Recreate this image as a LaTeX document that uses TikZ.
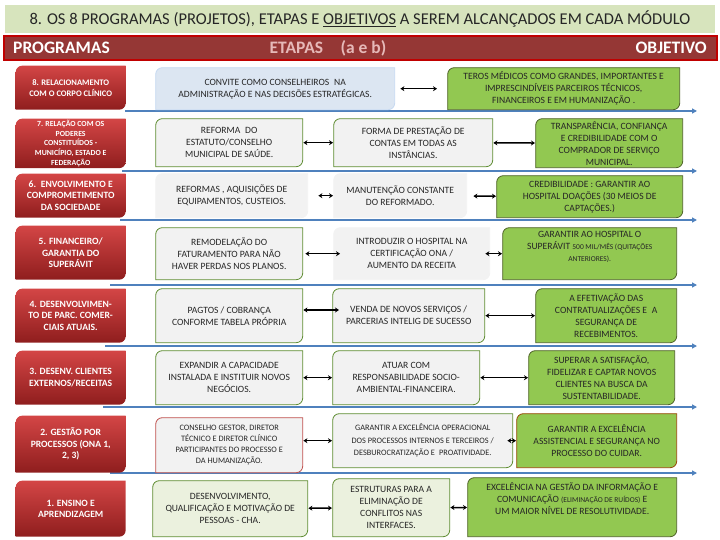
\documentclass[tikz,border=0pt]{standalone}
\usepackage{fontspec}
\setmainfont{Carlito}
\usetikzlibrary{arrows.meta,backgrounds}
\definecolor{titlegreen}{HTML}{D7E4BD}
\definecolor{hdrred}{HTML}{953735}
\definecolor{hdrline}{HTML}{C00000}
\definecolor{etapink}{HTML}{E6B9B8}
\definecolor{progtop}{HTML}{D44646}
\definecolor{progbot}{HTML}{8E1D1D}
\definecolor{objgreen}{HTML}{92C851}
\definecolor{objline}{HTML}{4F6228}
\definecolor{grayfill}{HTML}{F2F2F2}
\definecolor{boxgreen}{HTML}{5E8C31}
\definecolor{bluefill}{HTML}{DCE6F2}
\definecolor{blueline}{HTML}{C6D9F1}
\definecolor{lgreen}{HTML}{EBF1DE}
\definecolor{redline}{HTML}{C0504D}
\definecolor{brownline}{HTML}{984807}
\definecolor{sepblue}{HTML}{4F81BD}
\definecolor{txtgray}{HTML}{262626}
\newcommand{\diagpath}{([shift={(0.5pt,-7pt)}]path picture bounding box.north west) arc[start angle=180,end angle=90,radius=6.5pt] -- ([shift={(-0.5pt,-0.5pt)}]path picture bounding box.north east) -- ([shift={(-0.5pt,7pt)}]path picture bounding box.south east) arc[start angle=0,end angle=-90,radius=6.5pt] -- ([shift={(0.5pt,0.5pt)}]path picture bounding box.south west) -- cycle}
\tikzset{
  titlebar/.style={fill=titlegreen, minimum width=710pt, minimum height=28pt, inner sep=0pt, font=\fontsize{16.5}{19}\selectfont, text=txtgray},
  hdrbar/.style={fill=hdrred, draw=hdrline, line width=2pt, minimum width=713pt, minimum height=24pt, inner sep=0pt},
  hdrtxt/.style={font=\fontsize{17.5}{20}\selectfont\bfseries, text=white, inner sep=0pt},
  shp/.style 2 args={path picture={\path[fill=#1, draw=#2, line width=0.8pt] \diagpath;}},
  box/.style={anchor=north west, align=center, inner sep=2pt, font=\fontsize{9.6}{12}\selectfont, text=txtgray},
  prog/.style={box, font=\fontsize{9.6}{11.5}\selectfont\bfseries, text=white, path picture={\shade[top color=progtop, bottom color=progbot] \diagpath;}},
  etap/.style={box, shp={grayfill}{boxgreen}},
  etapn/.style={box, shp={grayfill}{grayfill}},
  obj/.style={box, shp={objgreen}{objline}},
  dbl/.style={{Stealth[length=4pt,width=5pt]}-{Stealth[length=4pt,width=5pt]}, line width=1.5pt},
  sep/.style={-{Triangle[length=5pt,width=5pt]}, line width=1.6pt, sepblue},
}
\begin{document}
\begin{tikzpicture}[x=1pt,y=1pt]
\useasboundingbox (0,0) rectangle (720,-540);
\node[titlebar] (title) at (360,-19) {8. OS 8 PROGRAMAS (PROJETOS), ETAPAS E \underline{OBJETIVOS} A SEREM ALCANÇADOS EM CADA MÓDULO};
\node[hdrbar] (hdr) at (360,-48) {};
\node[hdrtxt, anchor=west] (hprog) at (13,-48) {PROGRAMAS};
\node[hdrtxt, text=etapink] (hetap) at (328,-48) {ETAPAS\quad (a e b)};
\node[hdrtxt, anchor=east] (hobj) at (707,-48) {OBJETIVO};

\node[prog, minimum width=111pt, minimum height=45pt, font=\fontsize{8.5}{11}\selectfont\bfseries] (p8) at (15,-65) {8. RELACIONAMENTO\\COM O CORPO CLÍNICO};
\node[prog, minimum width=111pt, minimum height=50pt, font=\fontsize{7.8}{9.7}\selectfont\bfseries] (p7) at (15,-118) {7. RELAÇÃO COM OS\\PODERES\\CONSTITUÍDOS -\\MUNICÍPIO, ESTADO E\\FEDERAÇÃO};
\node[prog, minimum width=111pt, minimum height=45pt] (p6) at (15,-173) {6.\enspace ENVOLVIMENTO E\\COMPROMETIMENTO\\DA SOCIEDADE};
\node[prog, minimum width=111pt, minimum height=55pt] (p5) at (15,-225) {5. FINANCEIRO/\\GARANTIA DO\\SUPERÁVIT};
\node[prog, minimum width=111pt, minimum height=55pt] (p4) at (15,-288) {4. DESENVOLVIMEN-\\TO DE PARC. COMER-\\CIAIS ATUAIS.};
\node[prog, minimum width=111pt, minimum height=55pt] (p3) at (15,-350) {3. DESENV. CLIENTES\\EXTERNOS/RECEITAS};
\node[prog, minimum width=111pt, minimum height=58pt] (p2) at (15,-415) {2. GESTÃO POR\\PROCESSOS (ONA 1,\\2, 3)};
\node[prog, minimum width=111pt, minimum height=57pt] (p1) at (15,-480) {1. ENSINO E\\APRENDIZAGEM};

\node[box, shp={bluefill}{blueline}, minimum width=240pt, minimum height=43pt] (a8) at (155,-67) {CONVITE COMO CONSELHEIROS\enspace NA\\ADMINISTRAÇÃO E NAS DECISÕES ESTRATÉGICAS.};
\node[obj, minimum width=233pt, minimum height=43pt] (o8) at (447,-67) {TEROS MÉDICOS COMO GRANDES, IMPORTANTES E\\IMPRESCINDÍVEIS PARCEIROS TÉCNICOS,\\FINANCEIROS E EM HUMANIZAÇÃO .};

\node[etap, minimum width=148pt, minimum height=49pt] (a7) at (155,-118) {REFORMA\enspace DO\\ESTATUTO/CONSELHO\\MUNICIPAL DE SAÚDE.};
\node[etap, minimum width=160pt, minimum height=49pt] (b7) at (333,-118) {FORMA DE PRESTAÇÃO DE\\CONTAS EM TODAS AS\\INSTÂNCIAS.};
\node[obj, minimum width=148pt, minimum height=50pt] (o7) at (535,-118) {TRANSPARÊNCIA, CONFIANÇA\\E CREDIBILIDADE COM O\\COMPRADOR DE SERVIÇO\\MUNICIPAL.};

\node[etapn, minimum width=153pt, minimum height=45pt] (a6) at (155,-173) {REFORMAS , AQUISIÇÕES DE\\EQUIPAMENTOS, CUSTEIOS.};
\node[etapn, minimum width=134pt, minimum height=45pt] (b6) at (333,-173) {MANUTENÇÃO CONSTANTE\\DO REFORMADO.};
\node[obj, minimum width=187pt, minimum height=43pt] (o6) at (496,-175) {CREDIBILIDADE : GARANTIR AO\\HOSPITAL DOAÇÕES (30 MEIOS DE\\CAPTAÇÕES.)};

\node[etap, minimum width=148pt, minimum height=53pt] (a5) at (155,-227) {REMODELAÇÃO DO\\FATURAMENTO PARA NÃO\\HAVER PERDAS NOS PLANOS.};
\node[etapn, minimum width=157pt, minimum height=53pt] (b5) at (333,-227) {INTRODUZIR O HOSPITAL NA\\CERTIFICAÇÃO ONA /\\AUMENTO DA RECEITA};
\node[obj, minimum width=175pt, minimum height=53pt] (o5) at (502,-227) {GARANTIR AO HOSPITAL O\\SUPERÁVIT {\fontsize{7.5}{10}\selectfont 500 MIL/MÊS (QUITAÇÕES}\\{\fontsize{7.5}{10}\selectfont ANTERIORES).}\\[3pt]};

\node[etap, minimum width=148pt, minimum height=55pt] (a4) at (155,-288) {PAGTOS / COBRANÇA\\CONFORME TABELA PRÓPRIA};
\node[etap, minimum width=153pt, minimum height=55pt] (b4) at (332,-288) {VENDA DE NOVOS SERVIÇOS /\\PARCERIAS INTELIG DE SUCESSO};
\node[obj, minimum width=142pt, minimum height=55pt] (o4) at (535,-288) {A EFETIVAÇÃO DAS\\CONTRATUALIZAÇÕES E\enspace A\\SEGURANÇA DE\\RECEBIMENTOS.};

\node[etap, minimum width=148pt, minimum height=55pt] (a3) at (155,-350) {EXPANDIR A CAPACIDADE\\INSTALADA E INSTITUIR NOVOS\\NEGÓCIOS.};
\node[etap, minimum width=148pt, minimum height=55pt] (b3) at (332,-350) {ATUAR COM\\RESPONSABILIDADE SOCIO-\\AMBIENTAL-FINANCEIRA.};
\node[obj, minimum width=147pt, minimum height=55pt] (o3) at (528,-350) {SUPERAR A SATISFAÇÃO,\\FIDELIZAR E CAPTAR NOVOS\\CLIENTES NA BUSCA DA\\SUSTENTABILIDADE.};

\node[box, shp={grayfill}{redline}, minimum width=148pt, minimum height=56pt, font=\fontsize{8.3}{11}\selectfont] (a2) at (155,-417) {CONSELHO GESTOR, DIRETOR\\TÉCNICO E DIRETOR CLÍNICO\\PARTICIPANTES DO PROCESSO E\\DA HUMANIZAÇÃO.};
\node[etap, minimum width=181pt, minimum height=55pt, font=\fontsize{8.3}{12.5}\selectfont] (b2) at (332,-413) {GARANTIR A EXCELÊNCIA OPERACIONAL\\DOS PROCESSOS INTERNOS E TERCEIROS /\\DESBUROCRATIZAÇÃO E\enspace PROATIVIDADE.};
\node[box, shp={objgreen}{brownline}, minimum width=161pt, minimum height=55pt] (o2) at (516,-413) {GARANTIR A EXCELÊNCIA\\ASSISTENCIAL E SEGURANÇA NO\\PROCESSO DO CUIDAR.};

\node[box, shp={lgreen}{boxgreen}, minimum width=156pt, minimum height=57pt] (a1) at (152,-480) {DESENVOLVIMENTO,\\QUALIFICAÇÃO E MOTIVAÇÃO DE\\PESSOAS - CHA.};
\node[box, shp={lgreen}{boxgreen}, minimum width=118pt, minimum height=59pt] (b1) at (332,-478) {ESTRUTURAS PARA A\\ELIMINAÇÃO DE\\CONFLITOS NAS\\INTERFACES.};
\node[obj, minimum width=210pt, minimum height=60pt] (o1) at (467,-477) {EXCELÊNCIA NA GESTÃO DA INFORMAÇÃO E\\COMUNICAÇÃO {\fontsize{7.5}{10}\selectfont(ELIMINAÇÃO DE RUÍDOS)} E\\UM MAIOR NÍVEL DE RESOLUTIVIDADE.\\[5pt]};

\draw[dbl, shorten <=5pt, shorten >=10pt] (a8) -- (o8);
\draw[dbl] (a7) -- (b7);
\draw[dbl] (b7) -- (o7);
\draw[dbl, shorten <=10pt] (a6) -- (b6);
\draw[dbl, shorten <=6pt] (b6) -- (o6);
\draw[dbl, shorten <=2pt, shorten >=-7pt] (a5) -- (b5);
\draw[dbl, shorten <=-5pt] (b5) -- (o5);
\draw[dbl, shorten >=-7pt] (a4.east |- 0,-310) -- (b4.west |- 0,-310);
\draw[dbl] (b4) -- (o4);
\draw[dbl] (a3) -- (b3);
\draw[dbl] (b3) -- (o3);
\draw[dbl] (a2.east |- b2.west) -- (b2.west);
\draw[dbl, shorten <=-6pt] (b2) -- (o2);
\draw[dbl] (a1) -- (b1);
\draw[dbl] (b1) -- (o1);

\begin{scope}[on background layer]
\foreach \x/\y in {125/111, 122/171, 120/220, 110/285, 105/346, 103/407, 110/473}
  \draw[sep] (\x,-\y) -- (697,-\y);
\end{scope}
\end{tikzpicture}
\end{document}
